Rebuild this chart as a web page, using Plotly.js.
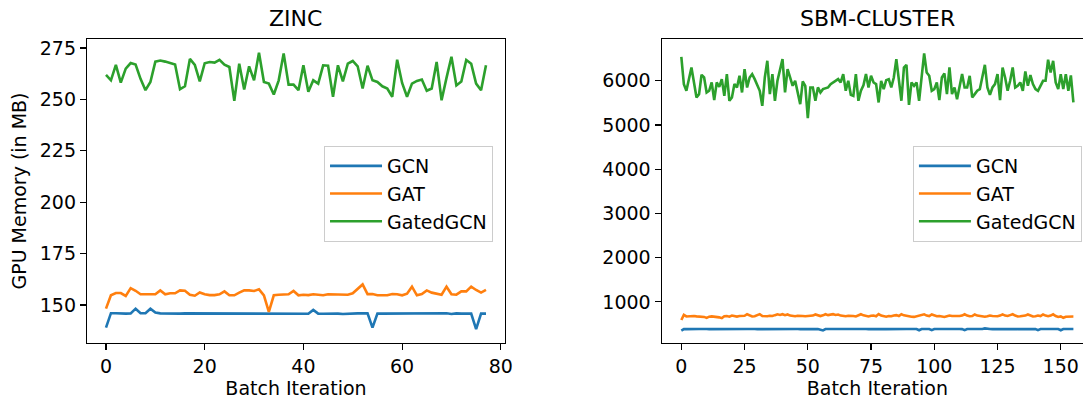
<!DOCTYPE html>
<html>
<head>
<meta charset="utf-8">
<script src="https://cdn.plot.ly/plotly-3.0.1.min.js"></script>
<style>
html, body { margin: 0; padding: 0; overflow: hidden; background: #fff; }
#chart { width: 1095px; height: 400px; }
</style>
</head>
<body>
<div id="chart"></div>
<script>
// ---------- ZINC (78 batch iterations) ----------
const zincGCN = [139.0, 146.0, 146.0, 145.8, 145.8, 145.9, 148.2, 146.0, 146.0, 148.2,
  146.3, 145.9, 145.8, 145.8, 145.7, 145.8, 145.9, 145.9, 145.8, 145.7,
  145.9, 145.8, 145.9, 145.7, 145.7, 145.8, 145.9, 145.8, 145.7, 145.8,
  145.8, 145.9, 145.8, 145.8, 145.7, 145.9, 145.8, 145.8, 145.7, 145.8,
  145.8, 145.7, 147.6, 145.8, 145.7, 145.8, 145.8, 145.8, 145.6, 145.8,
  145.8, 145.9, 145.9, 145.9, 139.0, 145.8, 145.8, 145.8, 145.8, 145.7,
  145.8, 145.8, 145.8, 145.8, 145.7, 145.8, 145.8, 145.7, 145.7, 146.0,
  145.6, 145.9, 145.8, 145.7, 145.8, 138.2, 145.8, 145.8];
const zincGAT = [148.2, 154.7, 155.8, 155.8, 154.4, 158.2, 156.9, 155.2, 155.2, 155.2,
  155.2, 157.1, 155.2, 155.7, 155.7, 157.1, 156.9, 155.0, 154.5, 156.1,
  155.2, 154.8, 154.8, 155.2, 156.6, 154.7, 154.7, 156.0, 157.1, 157.1,
  156.8, 157.6, 154.7, 146.6, 154.7, 155.0, 155.2, 155.2, 156.8, 154.7,
  155.0, 154.8, 155.2, 155.0, 154.7, 155.2, 155.2, 155.2, 155.0, 155.0,
  155.7, 157.9, 160.0, 155.3, 155.3, 154.7, 154.8, 154.7, 155.3, 155.2,
  154.7, 155.5, 158.9, 154.7, 155.3, 157.1, 156.0, 155.5, 155.0, 158.9,
  155.2, 155.0, 156.6, 156.6, 158.9, 157.3, 156.0, 157.3];
const zincGated = [261.9, 259.3, 266.8, 258.2, 265.0, 267.7, 267.0, 260.0, 254.5, 258.5,
  268.4, 268.9, 268.4, 267.7, 267.0, 255.0, 256.4, 269.7, 266.8, 258.8,
  267.6, 268.2, 267.9, 269.3, 266.9, 265.8, 249.3, 267.4, 254.8, 266.1,
  259.3, 272.7, 258.5, 257.7, 252.4, 259.3, 272.4, 257.2, 257.2, 254.5,
  266.6, 253.7, 259.3, 257.7, 266.6, 266.4, 251.3, 266.6, 258.8, 267.4,
  268.7, 266.1, 255.3, 266.4, 259.3, 258.5, 256.4, 255.3, 251.3, 269.3,
  258.0, 251.3, 257.7, 259.0, 259.7, 254.2, 255.3, 268.2, 249.6, 260.5,
  270.8, 256.8, 258.7, 269.2, 267.4, 257.7, 254.5, 266.6];

// ---------- SBM-CLUSTER (156 batch iterations) ----------
const sbmGCN = [352, 386, 384, 387, 385, 383, 386, 388, 385, 391,
  386, 384, 383, 386, 385, 384, 387, 385, 383, 386,
  388, 385, 384, 386, 385, 383, 386, 387, 395, 386,
  384, 385, 372, 385, 386, 384, 385, 387, 384, 386,
  385, 383, 386, 384, 385, 387, 385, 384, 386, 385,
  383, 386, 385, 384, 386, 372, 354, 385, 386, 384,
  387, 385, 384, 386, 385, 383, 390, 385, 384, 386,
  385, 384, 386, 385, 383, 386, 387, 385, 384, 386,
  385, 384, 386, 385, 387, 384, 386, 385, 384, 386,
  385, 383, 386, 385, 358, 386, 385, 384, 386, 360,
  385, 386, 384, 385, 387, 384, 386, 385, 383, 386,
  385, 384, 360, 386, 385, 384, 386, 385, 383, 386,
  400, 386, 385, 384, 386, 385, 383, 386, 385, 384,
  386, 385, 387, 384, 386, 385, 383, 386, 385, 384,
  386, 362, 385, 386, 384, 385, 386, 384, 385, 386,
  358, 385, 386, 384, 385, 386];
const sbmGAT = [590, 705, 670, 675, 665, 680, 672, 668, 678, 660,
  638, 665, 672, 668, 660, 650, 632, 675, 680, 665,
  690, 672, 668, 680, 675, 685, 720, 690, 670, 675,
  690, 722, 680, 670, 675, 685, 680, 700, 718, 705,
  722, 700, 715, 690, 680, 675, 685, 690, 680, 675,
  680, 685, 690, 716, 690, 680, 695, 720, 700, 715,
  722, 705, 715, 690, 680, 675, 685, 690, 680, 670,
  690, 720, 695, 680, 670, 685, 690, 675, 725, 690,
  670, 665, 680, 675, 690, 700, 680, 720, 695, 680,
  670, 665, 660, 675, 690, 700, 718, 690, 680, 715,
  690, 675, 680, 670, 660, 675, 690, 680, 675, 670,
  680, 690, 720, 690, 675, 680, 715, 690, 680, 670,
  665, 675, 690, 680, 670, 675, 690, 718, 690, 680,
  700, 720, 690, 670, 675, 680, 690, 715, 690, 670,
  675, 690, 680, 715, 690, 675, 690, 718, 680, 660,
  670, 640, 665, 670, 665, 668];
const sbmGated = [6540, 5925, 5774, 6038, 6301, 5962, 5623, 5698, 6136, 6075,
  5736, 5774, 5962, 5563, 5962, 5864, 6038, 5660, 6151, 5548,
  5623, 5925, 5849, 6113, 5736, 6264, 5849, 6075, 6151, 6038,
  5887, 5774, 5434, 6075, 6452, 5698, 6151, 5548, 6000, 6226,
  6490, 5736, 6264, 6075, 5887, 6000, 5698, 5472, 5985, 5887,
  5156, 5849, 5849, 5548, 5849, 5736, 5811, 5826, 5849, 5925,
  5962, 6000, 6038, 5962, 6151, 5774, 6000, 5683, 5660, 6151,
  5548, 5774, 5900, 6151, 5850, 6113, 5962, 5925, 5510, 6000,
  5811, 6015, 6038, 5849, 6075, 6490, 6000, 5548, 6301, 6362,
  5457, 5962, 5887, 5962, 5548, 6151, 6618, 6188, 6113, 5774,
  5811, 5962, 5563, 6075, 6166, 5698, 6301, 5698, 5849, 5585,
  5849, 6151, 5849, 5849, 6113, 5623, 5698, 5774, 5811, 6113,
  6362, 5849, 5683, 5849, 5925, 6151, 5563, 6301, 6075, 5774,
  6000, 6301, 5849, 5887, 5962, 5774, 6211, 5887, 6128, 5925,
  5811, 5774, 5887, 6000, 6000, 6475, 6188, 6452, 5962, 5811,
  6151, 5811, 6151, 5774, 6120, 5510];

const seriesNames = ['GCN', 'GAT', 'GatedGCN'];
const seriesColors = ['#1f77b4', '#ff7f0e', '#2ca02c'];
const zincTicks = [0, 20, 40, 60, 80];
const sbmTicks = [0, 25, 50, 75, 100, 125, 150];
const zincYTicks = [150, 175, 200, 225, 250, 275];
const sbmYTicks = [1000, 2000, 3000, 4000, 5000, 6000];

const idx = arr => arr.map((_, i) => i);
const FONT = 'DejaVu Sans, sans-serif';
const FS = 19;

const zincSeries = [zincGCN, zincGAT, zincGated];
const sbmSeries = [sbmGCN, sbmGAT, sbmGated];
const traces = [];
zincSeries.forEach((s, k) => traces.push({
  x: idx(s), y: s, type: 'scatter', mode: 'lines', name: seriesNames[k],
  line: { color: seriesColors[k], width: 2.6 }, xaxis: 'x', yaxis: 'y', legend: 'legend'
}));
sbmSeries.forEach((s, k) => traces.push({
  x: idx(s), y: s, type: 'scatter', mode: 'lines', name: seriesNames[k],
  line: { color: seriesColors[k], width: 2.6 }, xaxis: 'x2', yaxis: 'y2', legend: 'legend2'
}));

const axisCommon = {
  showline: true, mirror: true, linecolor: '#000', linewidth: 1.2,
  ticks: 'outside', ticklen: 6, tickwidth: 1.2, tickcolor: '#000',
  showgrid: false, zeroline: false,
  tickfont: { family: FONT, size: FS, color: '#000' }
};
const legendCommon = {
  yanchor: 'top', xanchor: 'left', y: 0.648,
  bgcolor: 'rgba(255,255,255,0.9)', bordercolor: '#cccccc', borderwidth: 1,
  font: { family: FONT, size: FS, color: '#000' }, itemwidth: 52
};

const layout = {
  width: 1095, height: 400,
  margin: { l: 87, r: 2, t: 39, b: 57 },
  paper_bgcolor: '#fff', plot_bgcolor: '#fff',
  font: { family: FONT, size: FS, color: '#000' },
  xaxis: Object.assign({}, axisCommon, {
    domain: [0, 0.4155], range: [-3.85, 80.85], tickvals: zincTicks, anchor: 'y',
    title: { text: 'Batch Iteration', font: { family: FONT, size: FS, color: '#000' }, standoff: 5 }
  }),
  yaxis: Object.assign({}, axisCommon, {
    domain: [0, 1], range: [131.5, 279.4], tickvals: zincYTicks, anchor: 'x',
    title: { text: 'GPU Memory (in MB)', font: { family: FONT, size: FS, color: '#000' }, standoff: 8 }
  }),
  xaxis2: Object.assign({}, axisCommon, {
    domain: [0.5713, 1], range: [-7.75, 162.75], tickvals: sbmTicks, anchor: 'y2',
    title: { text: 'Batch Iteration', font: { family: FONT, size: FS, color: '#000' }, standoff: 5 }
  }),
  yaxis2: Object.assign({}, axisCommon, {
    domain: [0, 1], range: [70, 6945], tickvals: sbmYTicks, anchor: 'x2'
  }),
  legend: Object.assign({}, legendCommon, { x: 0.2356 }),
  legend2: Object.assign({}, legendCommon, { x: 0.821 }),
  annotations: [
    { text: 'ZINC', xref: 'paper', yref: 'paper', x: 0.4155 / 2, y: 1.0658,
      xanchor: 'center', yanchor: 'middle', showarrow: false,
      font: { family: FONT, size: 22, color: '#000' } },
    { text: 'SBM-CLUSTER', xref: 'paper', yref: 'paper', x: (0.5713 + 1) / 2, y: 1.0658,
      xanchor: 'center', yanchor: 'middle', showarrow: false,
      font: { family: FONT, size: 22, color: '#000' } }
  ],
  showlegend: true
};

Plotly.newPlot('chart', traces, layout, { staticPlot: true, displayModeBar: false });
</script>
</body>
</html>
